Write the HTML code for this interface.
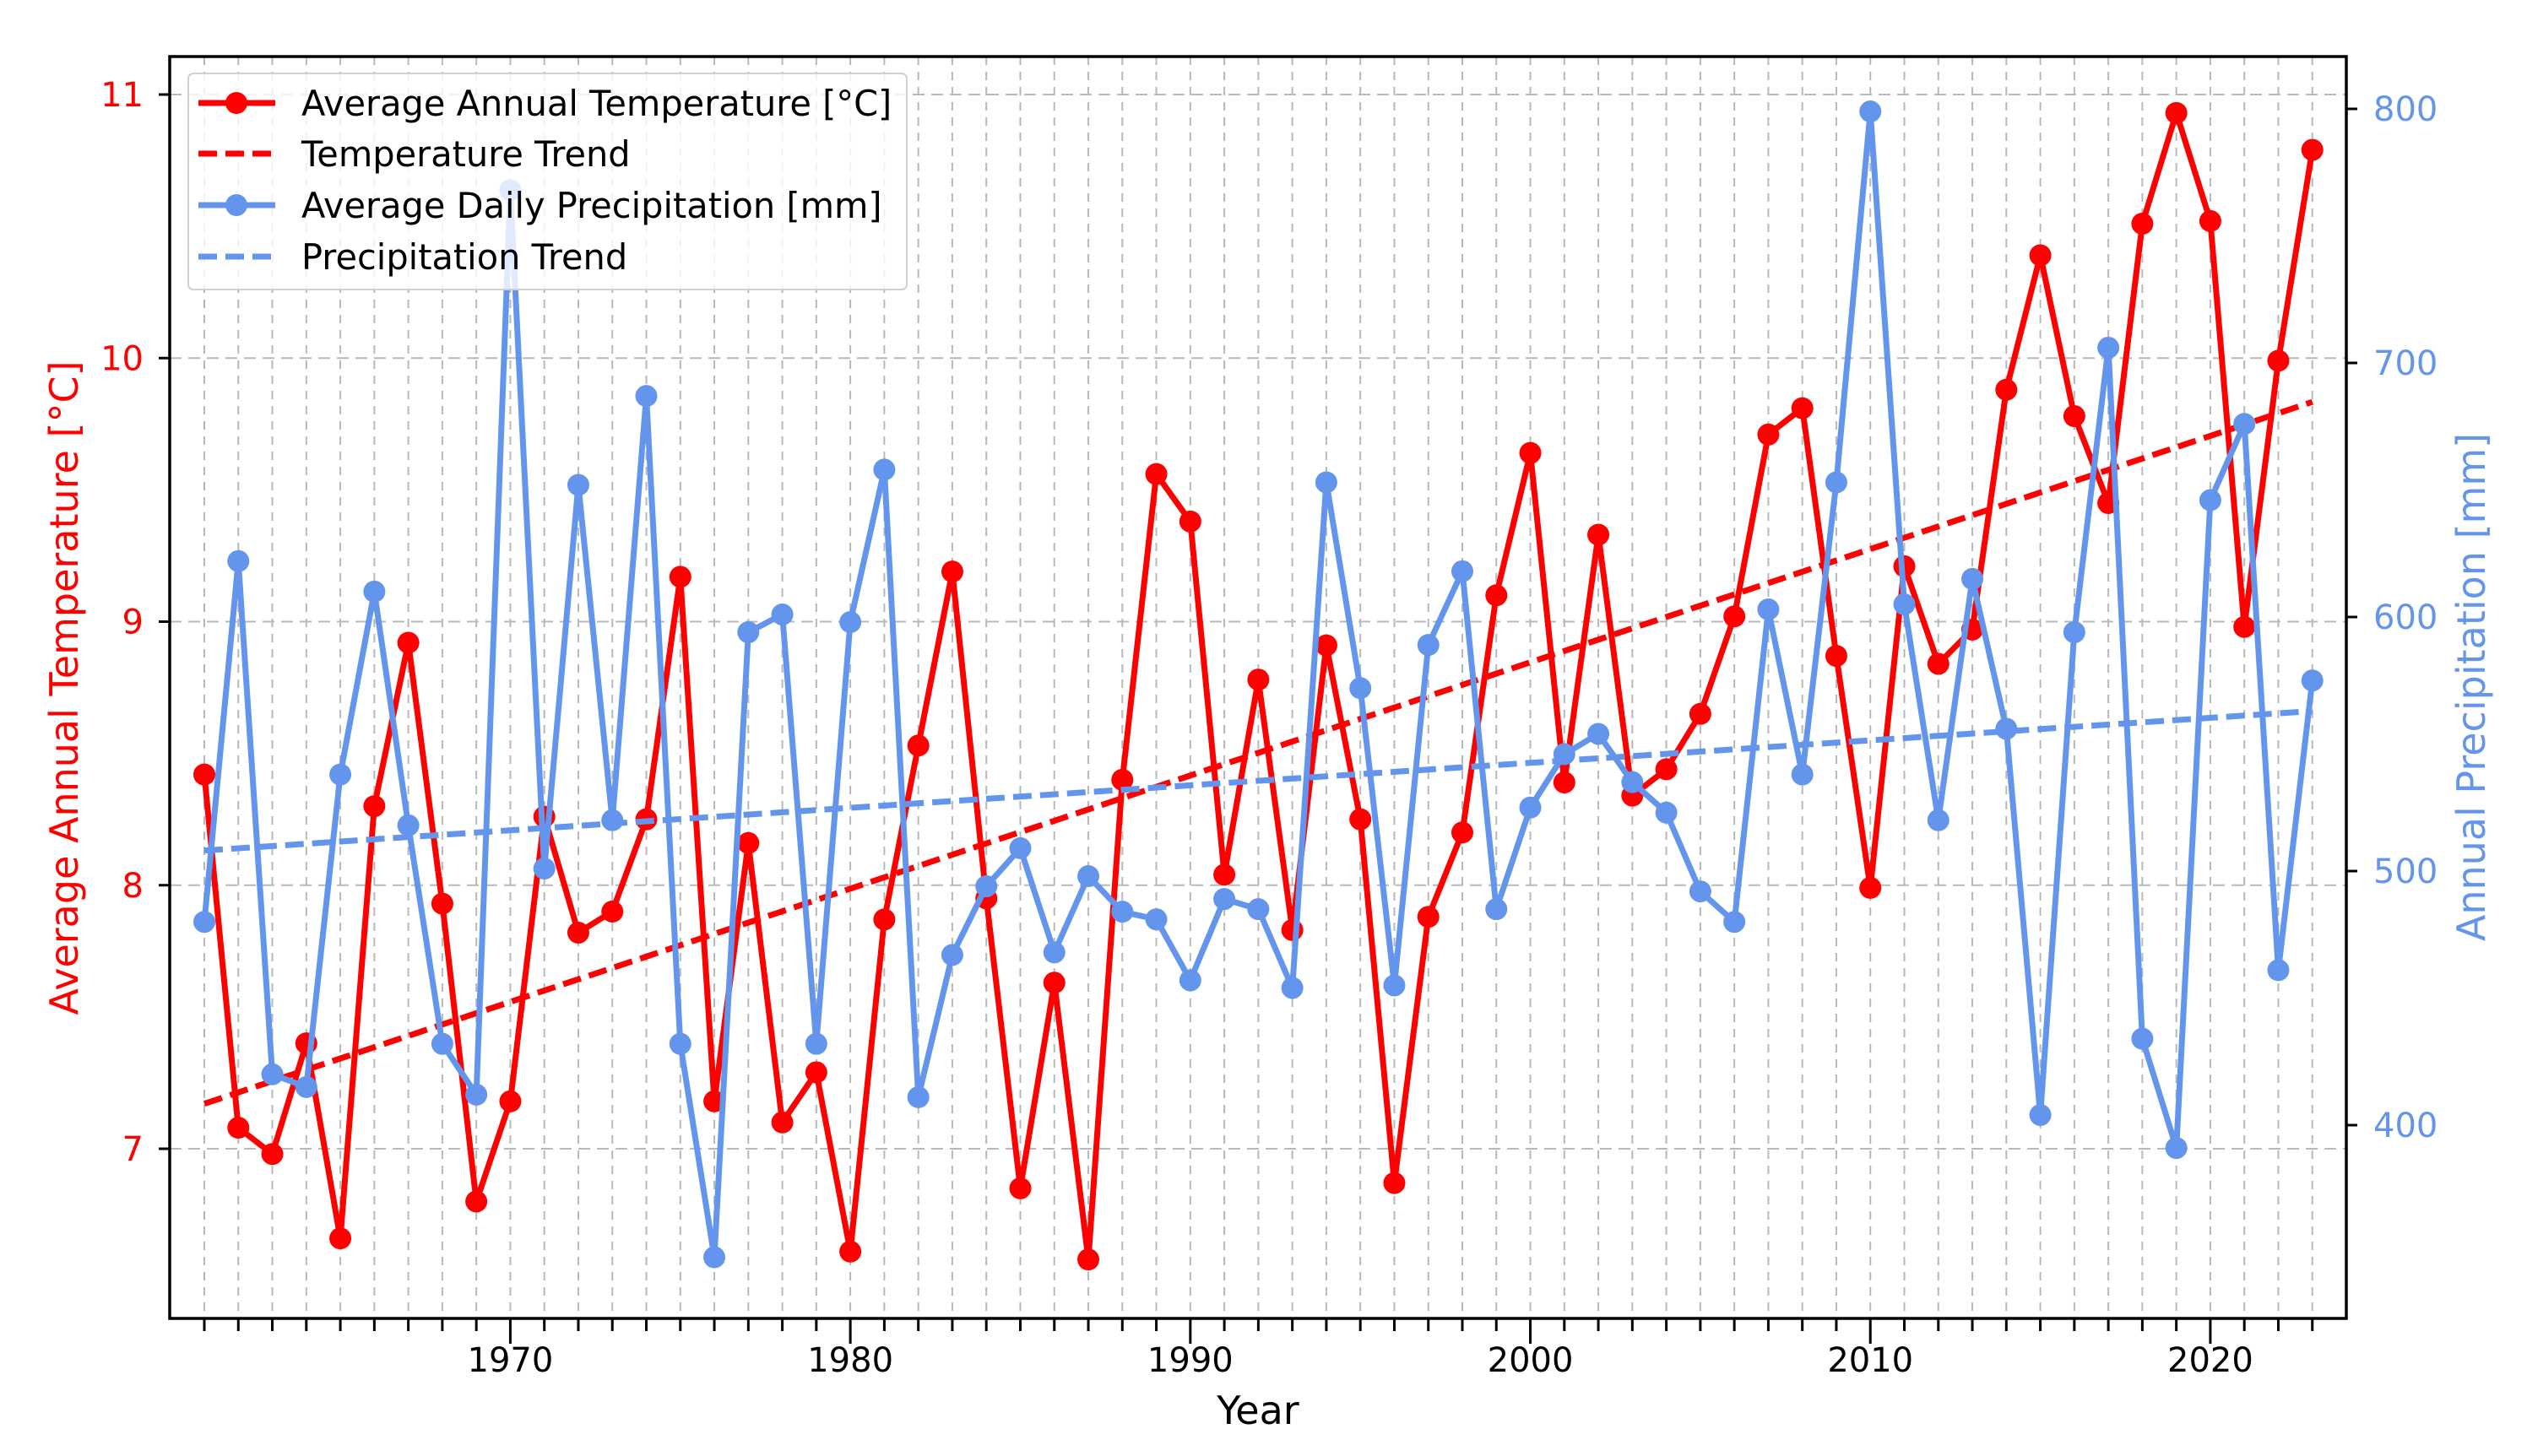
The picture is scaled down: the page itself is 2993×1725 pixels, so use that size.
<!DOCTYPE html>
<html><head><meta charset="utf-8"><style>
html,body{margin:0;padding:0;background:#fff;}
svg{display:block;font-family:"DejaVu Sans","Liberation Sans",sans-serif;}
</style></head><body>
<svg id="chart" width="2993" height="1725" viewBox="0 0 2993 1725" xmlns="http://www.w3.org/2000/svg">
<rect width="2993" height="1725" fill="#fff"/>
<g id="grid"></g>
<g id="series"></g>
<g id="axes"></g>
<g id="legend"></g>
</svg>
<script>
const years = [];
for (let y = 1961; y <= 2023; y++) years.push(y);
const temperature = [8.42,7.08,6.98,7.40,6.66,8.30,8.92,7.93,6.80,7.18,8.26,7.82,7.90,8.25,9.17,7.18,8.16,7.10,7.29,6.61,7.87,8.53,9.19,7.95,6.85,7.63,6.58,8.40,9.56,9.38,8.04,8.78,7.83,8.91,8.25,6.87,7.88,8.20,9.10,9.64,8.39,9.33,8.34,8.44,8.65,9.02,9.71,9.81,8.87,7.99,9.21,8.84,8.97,9.88,10.39,9.78,9.45,10.51,10.93,10.52,8.98,9.99,10.79];
const precipitation = [480,622,420,415,538,610,518,432,412,768,501,652,520,687,432,348,594,601,432,598,658,411,467,494,509,468,498,484,481,457,489,485,454,653,572,455,589,618,485,525,546,554,535,523,492,480,603,538,653,799,605,520,615,556,404,594,706,434,391,646,676,461,575];
const xTickLabels = [1970,1980,1990,2000,2010,2020];
const tempTicks = [7,8,9,10,11];
const precipTicks = [400,500,600,700,800];

const NS = "http://www.w3.org/2000/svg";
const L = 201, R = 2779, T = 67, B = 1562;
const X = yr => 242 + (yr - 1961) * 40.27;
const YT = t => 1361 - (t - 7) * 312.25;
const YP = p => 1333 - (p - 400) * 3.01;
function mk(tag, attrs, parent, text) {
  const e = document.createElementNS(NS, tag);
  for (const k in attrs) e.setAttribute(k, attrs[k]);
  if (text !== undefined) e.textContent = text;
  parent.appendChild(e);
  return e;
}
const grid = document.getElementById('grid');
const series = document.getElementById('series');
const axes = document.getElementById('axes');
const legend = document.getElementById('legend');

years.forEach(yr => {
  const g = mk('line', {x1: X(yr), x2: X(yr), y1: T, y2: B, stroke: '#b8b8b8', 'stroke-width': 2, 'stroke-dasharray': '10,8'}, grid);
  
  
});
tempTicks.forEach(t => {
  const g = mk('line', {x1: L, x2: R, y1: YT(t), y2: YT(t), stroke: '#b8b8b8', 'stroke-width': 2, 'stroke-dasharray': '14,8'}, grid);
  
  
});

function trend(vals) {
  const n = years.length;
  let sx = 0, sy = 0, sxx = 0, sxy = 0;
  for (let i = 0; i < n; i++) { sx += years[i]; sy += vals[i]; sxx += years[i]*years[i]; sxy += years[i]*vals[i]; }
  const m = (n*sxy - sx*sy) / (n*sxx - sx*sx);
  const b = (sy - m*sx) / n;
  return yr => m*yr + b;
}
const tT = trend(temperature), tP = trend(precipitation);

const tl = mk('polyline', {points: years.map((y,i) => X(y)+','+YT(temperature[i])).join(' '), fill: 'none', stroke: '#ff0000', 'stroke-width': 7, 'stroke-linejoin': 'round'}, series);


years.forEach((y,i) => {
  const c = mk('circle', {cx: X(y), cy: YT(temperature[i]), r: 13, fill: '#ff0000'}, series);
  
  
});
const ttl = mk('line', {x1: X(1961), y1: YT(tT(1961)), x2: X(2023), y2: YT(tT(2023)), stroke: '#ff0000', 'stroke-width': 7, 'stroke-dasharray': '22,10'}, series);



const pl = mk('polyline', {points: years.map((y,i) => X(y)+','+YP(precipitation[i])).join(' '), fill: 'none', stroke: '#6495ed', 'stroke-width': 7, 'stroke-linejoin': 'round'}, series);


years.forEach((y,i) => {
  const c = mk('circle', {cx: X(y), cy: YP(precipitation[i]), r: 13, fill: '#6495ed'}, series);
  
  
});
const ptl = mk('line', {x1: X(1961), y1: YP(tP(1961)), x2: X(2023), y2: YP(tP(2023)), stroke: '#6495ed', 'stroke-width': 7, 'stroke-dasharray': '22,10'}, series);



const fr = mk('rect', {x: L, y: T, width: R-L, height: B-T, fill: 'none', stroke: '#000', 'stroke-width': 3.5}, axes);


years.forEach(yr => {
  const major = xTickLabels.includes(yr);
  const t = mk('line', {x1: X(yr), x2: X(yr), y1: B, y2: B + (major ? 30 : 15), stroke: '#000', 'stroke-width': 3}, axes);
  
  
});
xTickLabels.forEach(yr => {
  const t = mk('text', {x: X(yr), y: 1625, 'font-size': 40, 'text-anchor': 'middle', fill: '#000'}, axes, String(yr));
  
  
});
tempTicks.forEach(v => {
  const t = mk('line', {x1: L-13, x2: L, y1: YT(v), y2: YT(v), stroke: '#000', 'stroke-width': 3}, axes);
  
  
  const l = mk('text', {x: 170, y: YT(v)+14, 'font-size': 40, 'text-anchor': 'end', fill: '#ff0000'}, axes, String(v));
  
  
});
precipTicks.forEach(v => {
  const t = mk('line', {x1: R, x2: R+13, y1: YP(v), y2: YP(v), stroke: '#000', 'stroke-width': 3}, axes);
  
  
  const l = mk('text', {x: 2811, y: YP(v)+14, 'font-size': 40, 'text-anchor': 'start', fill: '#6495ed'}, axes, String(v));
  
  
});
const xt = mk('text', {x: 1490, y: 1687, 'font-size': 46, 'text-anchor': 'middle', fill: '#000'}, axes, 'Year');


const yl = mk('text', {x: 0, y: 0, 'font-size': 46, 'text-anchor': 'middle', fill: '#ff0000', transform: 'translate(92,815) rotate(-90)'}, axes, 'Average Annual Temperature [°C]');


const yr2 = mk('text', {x: 0, y: 0, 'font-size': 46, 'text-anchor': 'middle', fill: '#6495ed', transform: 'translate(2943,814) rotate(-90)'}, axes, 'Annual Precipitation [mm]');



const lb = mk('rect', {x: 223, y: 87, width: 851, height: 256, rx: 6, fill: 'rgba(255,255,255,0.8)', stroke: '#d0d0d0', 'stroke-width': 2}, legend);


const entries = [
  ['Average Annual Temperature [°C]', '#ff0000', false, 122],
  ['Temperature Trend', '#ff0000', true, 182],
  ['Average Daily Precipitation [mm]', '#6495ed', false, 243],
  ['Precipitation Trend', '#6495ed', true, 304]
];
entries.forEach(e => {
  const g = mk('g', {}, legend);
  
  
  mk('line', {x1: 235, x2: 326, y1: e[3], y2: e[3], stroke: e[1], 'stroke-width': 7, 'stroke-dasharray': e[2] ? '22,10' : 'none'}, g);
  if (!e[2]) mk('circle', {cx: 280, cy: e[3], r: 13, fill: e[1]}, g);
  mk('text', {x: 357, y: e[3]+15, 'font-size': 41.5, fill: '#000'}, g, e[0]);
});
</script>
</body></html>
